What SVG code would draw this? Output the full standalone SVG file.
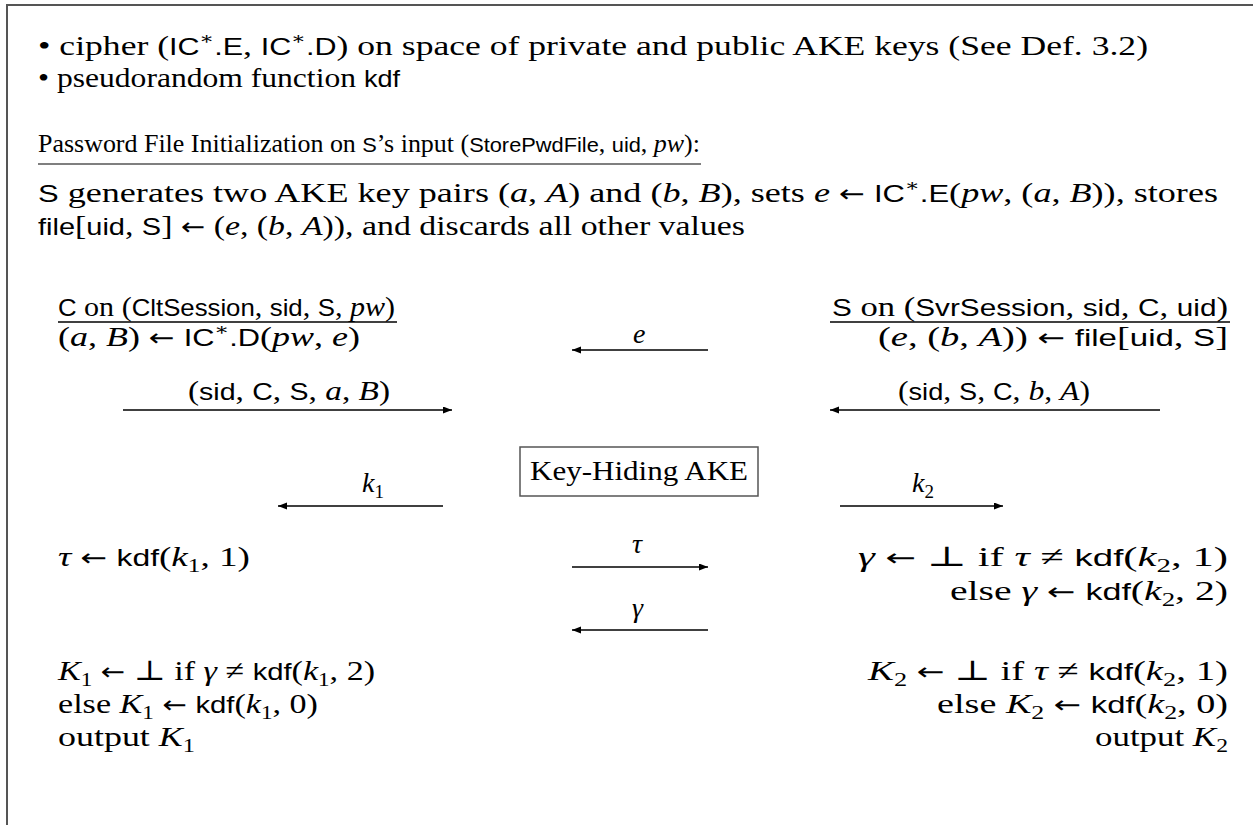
<svg xmlns="http://www.w3.org/2000/svg" width="1253" height="825" viewBox="0 0 1253 825">
<style>
.t{font-family:"Liberation Serif","DejaVu Serif",serif;font-size:28px;fill:#000}
.sf{font-family:"Liberation Sans","DejaVu Sans",sans-serif;font-size:24px}
.it{font-style:italic}
.ar{font-family:"DejaVu Sans",sans-serif;font-size:24px}
.sub{font-size:19px}
.sup{font-size:17px}
.ln{stroke:#000;stroke-width:1.3;fill:none}
.frame{stroke:#555;stroke-width:2;fill:none}
.pw{font-size:25px}
.pw .sf{font-size:21px}
</style>
<defs>
<marker id="ah" markerUnits="userSpaceOnUse" markerWidth="10" markerHeight="8" refX="9" refY="3.5" orient="auto">
<path d="M0,0 L9,3.5 L0,7 z" fill="#000"/>
</marker>
</defs>
<rect width="1253" height="825" fill="#fff"/>
<path class="frame" d="M7,825 V5 H1253"/>

<g id="header">
<text class="t" x="38" y="55" textLength="1110" lengthAdjust="spacingAndGlyphs">• cipher (<tspan class="sf">IC</tspan><tspan class="sup" dy="-11">∗</tspan><tspan class="sf" dy="11">.E</tspan>, <tspan class="sf">IC</tspan><tspan class="sup" dy="-11">∗</tspan><tspan class="sf" dy="11">.D</tspan>) on space of private and public AKE keys (See Def. 3.2)</text>
<text class="t" x="38" y="87" textLength="362" lengthAdjust="spacingAndGlyphs">• pseudorandom function <tspan class="sf">kdf</tspan></text>
</g>

<g id="init">
<text class="t pw" x="38" y="152" textLength="662" lengthAdjust="spacingAndGlyphs">Password File Initialization on <tspan class="sf">S</tspan>’s input (<tspan class="sf">StorePwdFile</tspan>, <tspan class="sf">uid</tspan>, <tspan class="it">pw</tspan>):</text>
<line x1="38" y1="164" x2="701" y2="164" stroke="#555" stroke-width="1.6"/>
<text class="t" x="38" y="202" textLength="1180" lengthAdjust="spacingAndGlyphs"><tspan class="sf">S</tspan> generates two AKE key pairs (<tspan class="it">a</tspan>, <tspan class="it">A</tspan>) and (<tspan class="it">b</tspan>, <tspan class="it">B</tspan>), sets <tspan class="it">e</tspan> <tspan class="ar">←</tspan> <tspan class="sf">IC</tspan><tspan class="sup" dy="-11">∗</tspan><tspan class="sf" dy="11">.E</tspan>(<tspan class="it">pw</tspan>, (<tspan class="it">a</tspan>, <tspan class="it">B</tspan>)), stores</text>
<text class="t" x="38" y="235" textLength="707" lengthAdjust="spacingAndGlyphs"><tspan class="sf">file</tspan>[<tspan class="sf">uid</tspan>, <tspan class="sf">S</tspan>] <tspan class="ar">←</tspan> (<tspan class="it">e</tspan>, (<tspan class="it">b</tspan>, <tspan class="it">A</tspan>)), and discards all other values</text>
</g>

<g id="client">
<text class="t" x="58" y="316" textLength="337" lengthAdjust="spacingAndGlyphs"><tspan class="sf">C</tspan> on (<tspan class="sf">CltSession</tspan>, <tspan class="sf">sid</tspan>, <tspan class="sf">S</tspan>, <tspan class="it">pw</tspan>)</text>
<line class="ln" x1="58" y1="322" x2="397" y2="322"/>
<text class="t" x="58" y="346" textLength="302" lengthAdjust="spacingAndGlyphs">(<tspan class="it">a</tspan>, <tspan class="it">B</tspan>) <tspan class="ar">←</tspan> <tspan class="sf">IC</tspan><tspan class="sup" dy="-11">∗</tspan><tspan class="sf" dy="11">.D</tspan>(<tspan class="it">pw</tspan>, <tspan class="it">e</tspan>)</text>
<text class="t" x="58" y="566" textLength="192" lengthAdjust="spacingAndGlyphs"><tspan class="it">τ</tspan> <tspan class="ar">←</tspan> <tspan class="sf">kdf</tspan>(<tspan class="it">k</tspan><tspan class="sub" dy="6">1</tspan><tspan dy="-6">, 1)</tspan></text>
<text class="t" x="58" y="680" textLength="317" lengthAdjust="spacingAndGlyphs"><tspan class="it">K</tspan><tspan class="sub" dy="6">1</tspan><tspan dy="-6"> </tspan><tspan class="ar">←</tspan> ⊥ if <tspan class="it">γ</tspan> ≠ <tspan class="sf">kdf</tspan>(<tspan class="it">k</tspan><tspan class="sub" dy="6">1</tspan><tspan dy="-6">, 2)</tspan></text>
<text class="t" x="58" y="713" textLength="260" lengthAdjust="spacingAndGlyphs">else <tspan class="it">K</tspan><tspan class="sub" dy="6">1</tspan><tspan dy="-6"> </tspan><tspan class="ar">←</tspan> <tspan class="sf">kdf</tspan>(<tspan class="it">k</tspan><tspan class="sub" dy="6">1</tspan><tspan dy="-6">, 0)</tspan></text>
<text class="t" x="58" y="746" textLength="137" lengthAdjust="spacingAndGlyphs">output <tspan class="it">K</tspan><tspan class="sub" dy="6">1</tspan></text>
</g>

<g id="server">
<text class="t" x="832" y="316" textLength="396" lengthAdjust="spacingAndGlyphs"><tspan class="sf">S</tspan> on (<tspan class="sf">SvrSession</tspan>, <tspan class="sf">sid</tspan>, <tspan class="sf">C</tspan>, <tspan class="sf">uid</tspan>)</text>
<line class="ln" x1="830" y1="322" x2="1230" y2="322"/>
<text class="t" x="878" y="346" textLength="350" lengthAdjust="spacingAndGlyphs">(<tspan class="it">e</tspan>, (<tspan class="it">b</tspan>, <tspan class="it">A</tspan>)) <tspan class="ar">←</tspan> <tspan class="sf">file</tspan>[<tspan class="sf">uid</tspan>, <tspan class="sf">S</tspan>]</text>
<text class="t" x="858" y="566" textLength="370" lengthAdjust="spacingAndGlyphs"><tspan class="it">γ</tspan> <tspan class="ar">←</tspan> ⊥ if <tspan class="it">τ</tspan> ≠ <tspan class="sf">kdf</tspan>(<tspan class="it">k</tspan><tspan class="sub" dy="6">2</tspan><tspan dy="-6">, 1)</tspan></text>
<text class="t" x="950" y="600" textLength="278" lengthAdjust="spacingAndGlyphs">else <tspan class="it">γ</tspan> <tspan class="ar">←</tspan> <tspan class="sf">kdf</tspan>(<tspan class="it">k</tspan><tspan class="sub" dy="6">2</tspan><tspan dy="-6">, 2)</tspan></text>
<text class="t" x="868" y="680" textLength="360" lengthAdjust="spacingAndGlyphs"><tspan class="it">K</tspan><tspan class="sub" dy="6">2</tspan><tspan dy="-6"> </tspan><tspan class="ar">←</tspan> ⊥ if <tspan class="it">τ</tspan> ≠ <tspan class="sf">kdf</tspan>(<tspan class="it">k</tspan><tspan class="sub" dy="6">2</tspan><tspan dy="-6">, 1)</tspan></text>
<text class="t" x="937" y="713" textLength="291" lengthAdjust="spacingAndGlyphs">else <tspan class="it">K</tspan><tspan class="sub" dy="6">2</tspan><tspan dy="-6"> </tspan><tspan class="ar">←</tspan> <tspan class="sf">kdf</tspan>(<tspan class="it">k</tspan><tspan class="sub" dy="6">2</tspan><tspan dy="-6">, 0)</tspan></text>
<text class="t" x="1095" y="746" textLength="133" lengthAdjust="spacingAndGlyphs">output <tspan class="it">K</tspan><tspan class="sub" dy="6">2</tspan></text>
</g>

<g id="ake">
<rect x="520" y="447" width="238" height="49" fill="none" stroke="#555" stroke-width="1.5"/>
<text class="t" x="530" y="480" textLength="218" lengthAdjust="spacingAndGlyphs">Key-Hiding AKE</text>
</g>

<g id="connectors">
<line class="ln" x1="708" y1="350" x2="572" y2="350" marker-end="url(#ah)"/>
<text class="t it" x="633" y="343">e</text>
<line class="ln" x1="123" y1="410" x2="452" y2="410" marker-end="url(#ah)"/>
<text class="t" x="188" y="400" textLength="202" lengthAdjust="spacingAndGlyphs">(<tspan class="sf">sid</tspan>, <tspan class="sf">C</tspan>, <tspan class="sf">S</tspan>, <tspan class="it">a</tspan>, <tspan class="it">B</tspan>)</text>
<line class="ln" x1="1160" y1="410" x2="830" y2="410" marker-end="url(#ah)"/>
<text class="t" x="898" y="400" textLength="192" lengthAdjust="spacingAndGlyphs">(<tspan class="sf">sid</tspan>, <tspan class="sf">S</tspan>, <tspan class="sf">C</tspan>, <tspan class="it">b</tspan>, <tspan class="it">A</tspan>)</text>
<line class="ln" x1="443" y1="506" x2="278" y2="506" marker-end="url(#ah)"/>
<text class="t" x="362" y="492"><tspan class="it">k</tspan><tspan class="sub" dy="6">1</tspan></text>
<line class="ln" x1="840" y1="506" x2="1003" y2="506" marker-end="url(#ah)"/>
<text class="t" x="912" y="492"><tspan class="it">k</tspan><tspan class="sub" dy="6">2</tspan></text>
<line class="ln" x1="572" y1="567" x2="708" y2="567" marker-end="url(#ah)"/>
<text class="t it" x="632" y="553">τ</text>
<line class="ln" x1="708" y1="630" x2="572" y2="630" marker-end="url(#ah)"/>
<text class="t it" x="632" y="617">γ</text>
</g>
</svg>
